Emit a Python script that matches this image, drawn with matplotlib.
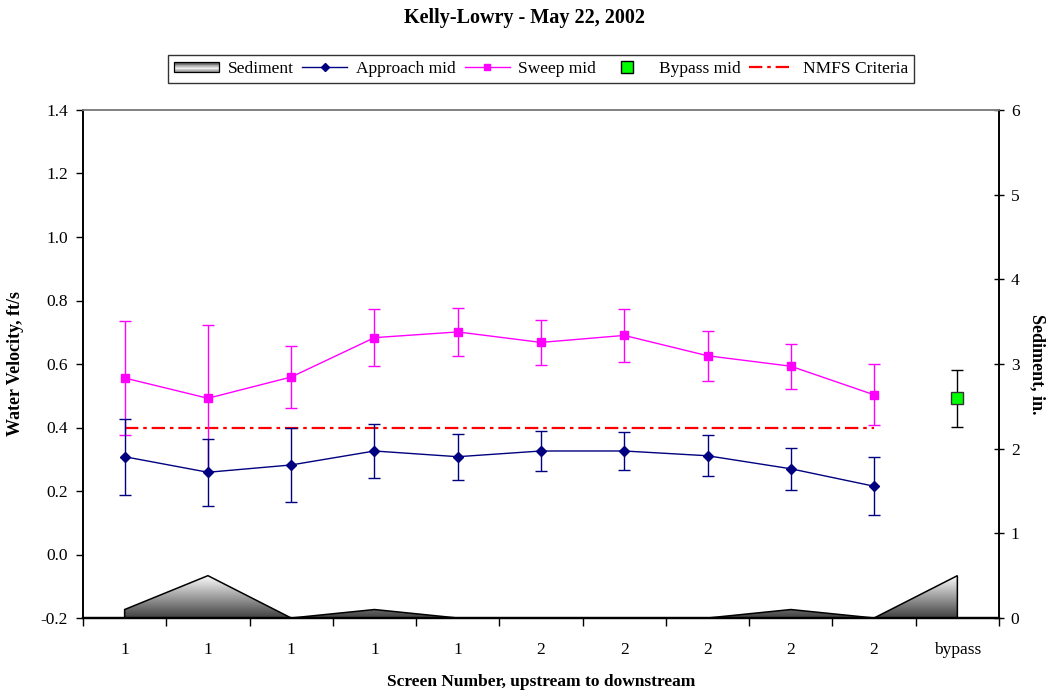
import numpy as np
import matplotlib
matplotlib.use("Agg")
import matplotlib.pyplot as plt
from matplotlib.patches import Polygon, Rectangle, Patch
from matplotlib.lines import Line2D
from matplotlib.legend_handler import HandlerBase

plt.rcParams['font.family'] = ['Liberation Serif', 'DejaVu Serif']

# ---- data ----
categories = ["1", "1", "1", "1", "1", "2", "2", "2", "2", "2", "bypass"]
approach_mid = [0.308, 0.259, 0.282, 0.326, 0.308, 0.326, 0.326, 0.311, 0.270, 0.215]
approach_err = [0.120, 0.105, 0.116, 0.084, 0.073, 0.062, 0.060, 0.065, 0.067, 0.092]
sweep_mid = [0.556, 0.492, 0.559, 0.683, 0.701, 0.668, 0.690, 0.626, 0.593, 0.503]
sweep_err = [0.180, 0.230, 0.099, 0.089, 0.075, 0.070, 0.083, 0.078, 0.071, 0.096]
bypass_mid = [0.492]
bypass_err = [0.090]
nmfs_criteria = 0.4
sediment = [0.1, 0.5, 0.0, 0.1, 0.0, 0.0, 0.0, 0.0, 0.1, 0.0, 0.5]

W, H = 1048, 694
fig = plt.figure(figsize=(W / 100, H / 100), dpi=100)
ax = fig.add_axes([83 / W, 1 - 618 / H, (999 - 83) / W, (618 - 110) / H])
ax2 = ax.twinx()
ax.set_zorder(ax2.get_zorder() + 1)
ax.patch.set_visible(False)

n = len(categories)
x_all = np.arange(n)
x_screens = np.arange(len(approach_mid))

# ---- sediment (secondary axis) with gradient fill ----
sed = np.array(sediment)
verts = [(x_all[0], 0)] + list(zip(x_all, sed)) + [(x_all[-1], 0)]
poly = Polygon(verts, closed=True, facecolor='none', edgecolor='none')
ax2.add_patch(poly)
smax = sed.max()
grad = np.linspace(1, 0, 256).reshape(-1, 1)
cmap = matplotlib.colors.LinearSegmentedColormap.from_list('g', ['#404040', '#ffffff'])
im = ax2.imshow(grad, extent=(x_all[0], x_all[-1], 0, smax), aspect='auto',
                cmap=cmap, origin='upper', zorder=1)
im.set_clip_path(poly)
outline = Polygon(verts, closed=True, facecolor='none', edgecolor='black', linewidth=1.1, zorder=2)
ax2.add_patch(outline)
ax2.set_ylim(0, 6)
ax2.set_yticks(range(0, 7))
ax2.tick_params(axis='y', direction='inout', length=7, width=1, labelsize=12.5, pad=5)
ax2.set_ylabel("Sediment, in.", fontsize=13, fontweight='bold', rotation=270, labelpad=19)

# ---- velocities ----
ax.errorbar(x_screens, sweep_mid, yerr=sweep_err, color='#ff00ff', marker='s', markersize=6,
            linewidth=1, elinewidth=1, capsize=4.5, capthick=1, zorder=4)
ax.errorbar(x_screens, approach_mid, yerr=approach_err, color='#000080', marker='D', markersize=5,
            linewidth=1, elinewidth=1, capsize=4.5, capthick=1, zorder=5)
ax.errorbar([x_all[-1]], bypass_mid, yerr=bypass_err, color='black', marker='s', markersize=9,
            markerfacecolor='#00ff00', markeredgecolor='#333333', linestyle='none',
            elinewidth=1, capsize=4.5, capthick=1, zorder=5)
ax.plot([x_screens[0], x_screens[-1]], [nmfs_criteria, nmfs_criteria], color='red',
        linewidth=1.6, dashes=(6, 2.2, 1.6, 2.2), zorder=3)

ax.set_xlim(-0.5, n - 0.5)
ax.set_ylim(-0.2, 1.4)
yt = np.arange(-0.2, 1.41, 0.2)
ax.set_yticks(yt)
ax.set_yticklabels([f"{v:.1f}" for v in yt])
ax.tick_params(axis='y', direction='out', length=5, width=1, labelsize=12.5, pad=6)
ax.set_xticks(x_all)
ax.set_xticklabels(categories)
ax.set_xticks(np.arange(-0.5, n, 1.0), minor=True)
ax.tick_params(axis='x', which='major', length=0, labelsize=12.5, pad=17)
ax.tick_params(axis='x', which='minor', direction='out', length=6, width=1)

for a in (ax, ax2):
    a.spines['top'].set_color('#808080')
    a.spines['top'].set_linewidth(1.2)
    a.spines['left'].set_linewidth(1.2)
    a.spines['bottom'].set_linewidth(1.6)
    a.spines['right'].set_linewidth(1.2)

ax.set_ylabel("Water Velocity, ft/s", fontsize=13, fontweight='bold', labelpad=12)
fig.text(541 / W, 1 - 682 / H, "Screen Number, upstream to downstream", ha='center', va='center',
         fontsize=12.5, fontweight='bold')
fig.text(524 / W, 1 - 18 / H, "Kelly-Lowry - May 22, 2002", ha='center', va='center',
         fontsize=14.5, fontweight='bold')


# ---- legend ----
class GradientHandler(HandlerBase):
    def create_artists(self, legend, orig_handle, xdescent, ydescent, width, height, fontsize, trans):
        arts = []
        nstep = 12
        h = height * 0.8
        y0 = -ydescent + (height - h) / 2
        for i in range(nstep):
            frac = i / (nstep - 1)
            g = 0.3 + 0.65 * (1 - abs(frac - 0.35) / 0.65)
            g = min(max(g, 0.3), 0.95)
            r = Rectangle((-xdescent, y0 + h * i / nstep), width, h / nstep,
                          facecolor=(g, g, g), edgecolor='none', transform=trans)
            arts.append(r)
        arts.append(Rectangle((-xdescent, y0), width, h, facecolor='none',
                              edgecolor='black', linewidth=0.9, transform=trans))
        return arts


sed_handle = Patch(label='Sediment')
handles = [
    sed_handle,
    Line2D([], [], color='#000080', marker='D', markersize=4, linewidth=1),
    Line2D([], [], color='#ff00ff', marker='s', markersize=5, linewidth=1),
    Line2D([], [], color='none', marker='s', markersize=8, markerfacecolor='#00ff00',
           markeredgecolor='black', linestyle='none'),
    Line2D([], [], color='red', linewidth=1.6, dashes=(6, 2.2, 1.6, 2.2)),
]
labels = ['Sediment', 'Approach mid', 'Sweep mid', 'Bypass mid', 'NMFS Criteria']
leg = fig.legend(handles, labels, loc='center', bbox_to_anchor=(541 / W, 1 - 69 / H), ncol=5,
                 frameon=True, fancybox=False, edgecolor='black', fontsize=12.5,
                 handlelength=2.6, handletextpad=0.5, columnspacing=0.5, borderpad=0.35,
                 handler_map={Patch: GradientHandler()})
leg.get_frame().set_linewidth(1.0)

fig.savefig("out.png", dpi=100)
